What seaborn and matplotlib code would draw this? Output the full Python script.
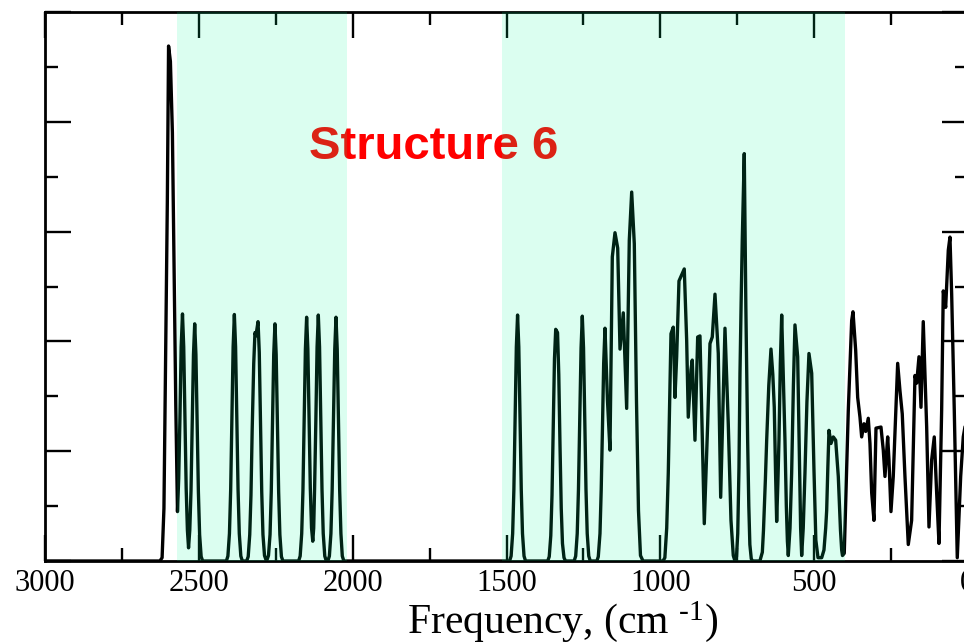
import numpy as np
import pandas as pd
import matplotlib
matplotlib.use("Agg")
import matplotlib.pyplot as plt
import seaborn as sns
from matplotlib.ticker import MultipleLocator

# Simulated vibrational spectrum, (frequency cm^-1, intensity a.u.) vertices,
# listed from high to low frequency.
stretch_region = [
    (3000, 0), (2627, 0), (2620, 0.03), (2614, 0.48), (2609, 1.73), (2603, 3.27),
    (2599, 4.69), (2593, 4.55), (2586.5, 3.90), (2581, 2.65), (2575.5, 1.42),
    (2570, 0.45), (2566, 0.75), (2562, 1.30), (2558, 1.95), (2553.7, 2.25),
    (2549.7, 1.95), (2545.7, 1.28), (2541.7, 0.66), (2537.7, 0.28), (2534, 0.12),
    (2530, 0.28), (2526, 0.64), (2522, 1.25), (2518, 1.88), (2514, 2.16),
    (2510, 1.88), (2506, 1.23), (2502, 0.63), (2498, 0.24), (2493, 0.04), (2488, 0),
    (2411, 0), (2406, 0.045), (2401, 0.25), (2397, 0.65), (2393, 1.28), (2389, 1.95),
    (2385, 2.245), (2381, 1.95), (2377, 1.28), (2373, 0.65), (2369, 0.25),
    (2364, 0.045), (2359, 0),
    (2345, 0), (2340, 0.04), (2335, 0.24), (2331, 0.60), (2327, 1.20), (2322, 1.80),
    (2318, 2.08), (2315, 2.05), (2308, 2.18), (2304, 1.90), (2300, 1.24),
    (2296, 0.63), (2292, 0.24), (2287, 0.05), (2282, 0.01),
    (2279, 0.01), (2274, 0.05), (2269, 0.24), (2265, 0.63), (2261, 1.23),
    (2257, 1.88), (2253, 2.16), (2249, 1.88), (2245, 1.23), (2241, 0.63),
    (2237, 0.24), (2232, 0.04), (2227, 0),
    (2176, 0), (2171, 0.045), (2166, 0.25), (2162, 0.64), (2158, 1.27), (2154, 1.93),
    (2150, 2.22), (2146, 1.93), (2142, 1.28), (2138, 0.66), (2134, 0.30),
    (2130, 0.18), (2127, 0.30), (2124, 0.67), (2120, 1.28), (2116, 1.95),
    (2112, 2.24), (2108, 1.95), (2104, 1.28), (2100, 0.65), (2096, 0.25),
    (2091, 0.045), (2086, 0),
    (2081, 0), (2076, 0.045), (2071, 0.25), (2067, 0.64), (2063, 1.27),
    (2058.5, 1.93), (2054.5, 2.22), (2050.5, 1.93), (2046.5, 1.27), (2042.5, 0.64),
    (2038.5, 0.25), (2034, 0.045), (2029, 0), (1900, 0),
]

fingerprint_region = [
    (1490, 0), (1485, 0.045), (1480, 0.25), (1476, 0.65), (1472, 1.28), (1468, 1.95),
    (1464, 2.24), (1460, 1.95), (1456, 1.28), (1452, 0.65), (1448, 0.25),
    (1443, 0.045), (1438, 0),
    (1366, 0), (1361, 0.04), (1356, 0.23), (1352, 0.60), (1348, 1.20), (1344, 1.84),
    (1340, 2.11), (1334, 2.08), (1330, 1.70), (1326, 1.05), (1322, 0.48),
    (1318, 0.16), (1313, 0.03), (1308, 0),
    (1280, 0), (1275, 0.045), (1270, 0.25), (1266, 0.65), (1262, 1.27),
    (1257.5, 1.94), (1253.5, 2.23), (1249.5, 1.94), (1245.5, 1.27), (1241.5, 0.65),
    (1237.5, 0.25), (1232.5, 0.045), (1227.5, 0),
    (1206, 0), (1201.5, 0.04), (1196, 0.25), (1192, 0.65), (1188, 1.20), (1184, 1.80),
    (1179.7, 2.12), (1171.6, 1.46), (1163.5, 1.01), (1155.9, 2.77), (1147.2, 2.99),
    (1138.4, 2.85), (1130.9, 1.93), (1120.2, 2.26), (1109.2, 1.39), (1100.7, 2.92),
    (1092.9, 3.36), (1084.4, 2.89), (1077.3, 1.46), (1070.8, 0.46), (1064.3, 0.05),
    (1056, 0),
    (991, 0), (985, 0.03), (979, 0.30), (973.9, 0.80), (969, 1.50), (965.1, 2.07),
    (957.6, 2.13), (952.1, 1.49), (946.6, 1.86), (939.1, 2.55), (921.9, 2.66),
    (914.1, 2.01), (908.9, 1.31), (900.1, 1.74), (895.9, 1.83), (887.1, 1.10),
    (878.3, 2.04), (870.8, 2.05), (856.8, 0.34), (845.8, 1.25), (838.3, 1.98),
    (830.8, 2.04), (822.0, 2.43), (811.3, 1.89), (803.5, 0.58), (789.5, 2.12),
    (778.8, 1.25), (770, 0.37), (762.5, 0.05), (757, 0),
    (752, 0.04), (748, 0.25), (744, 0.85), (740.7, 1.71), (737, 2.35), (733.3, 2.92),
    (726.8, 3.71), (721.6, 2.31), (718, 1.55), (715.8, 1.10), (712, 0.50),
    (708.6, 0.15), (704, 0.02), (700, 0),
    (676, 0), (668, 0.08), (664.3, 0.28), (658, 0.75), (653.9, 1.10), (647, 1.60),
    (639.9, 1.93), (634, 1.70), (629.2, 1.40), (625, 0.80), (621.4, 0.36),
    (617.6, 0.70), (613.9, 1.10), (609.5, 1.80), (605.1, 2.24), (600, 1.70),
    (594.4, 1.10), (590, 0.50), (586.5, 0.18), (583.6, 0.05), (578, 0.30),
    (572.7, 0.80), (567, 1.60), (561.9, 2.15), (553.1, 1.86), (550, 1.35),
    (547.2, 0.83), (543.5, 0.30), (540.1, 0.05), (535, 0.30), (529.4, 0.80),
    (523, 1.45), (516.4, 1.89), (507.5, 1.71), (504, 1.30), (500.1, 0.83),
    (494, 0.19), (487, 0.03), (475, 0.03), (467.6, 0.10), (462, 0.30),
    (458.8, 0.46), (455, 0.85), (451.3, 1.19), (444.8, 1.07), (437.3, 1.13),
    (429.5, 1.10), (421, 0.77), (417, 0.50), (413.9, 0.28), (410, 0.10),
    (407.4, 0.05), (401.6, 0.07),
]

low_region = [
    (388.5, 1.37), (377.5, 2.19), (373.2, 2.27), (364.5, 1.92), (358, 1.49),
    (350.5, 1.31), (345, 1.13), (337.5, 1.25), (331.9, 1.18), (323.5, 1.30),
    (318, 1.07), (312.4, 0.62), (305, 0.37), (298.4, 1.21), (282.2, 1.22),
    (274.7, 1.01), (269.2, 0.77), (260.4, 1.13), (256.2, 0.92), (249.7, 0.45),
    (242.2, 0.77), (227.9, 1.80), (220.4, 1.55), (213, 1.34), (204.2, 0.77),
    (193.4, 0.15), (182.5, 0.37), (171.6, 1.69), (166.1, 1.62), (158.6, 1.86),
    (152.1, 1.40), (144.7, 2.18), (133.6, 1.22), (126.1, 0.31), (117.4, 0.92),
    (108.9, 1.13), (101.1, 0.62), (93.6, 0.16), (84.9, 1.37), (79.6, 2.46),
    (71.8, 2.31), (63.3, 2.83), (57.8, 2.95), (52.3, 2.43), (43.8, 1.37),
    (34.1, 0.03), (23, 0.77), (14.6, 1.13), (0, 1.37),
]

# Highlighted frequency windows (cm^-1)
highlight_bands = [(2573, 2020), (1514, 400)]
title_text = "Structure 6"
x_major_ticks = [3000, 2500, 2000, 1500, 1000, 500, 0]

points = stretch_region + fingerprint_region + low_region
spectrum = pd.DataFrame(points, columns=["frequency", "intensity"])

sns.set_style("ticks")
plt.rcParams["font.family"] = ["Liberation Serif", "DejaVu Serif"]
plt.rcParams["text.color"] = "black"
plt.rcParams["axes.labelcolor"] = "black"
plt.rcParams["xtick.color"] = "black"
plt.rcParams["ytick.color"] = "black"
plt.rcParams["mathtext.fontset"] = "custom"
plt.rcParams["mathtext.rm"] = "Liberation Serif"
plt.rcParams["mathtext.it"] = "Liberation Serif:italic"

fig = plt.figure(figsize=(9.64, 6.44), dpi=100)
ax = fig.add_axes([0.04694, 0.12888, 0.95695, 0.85248])

sns.lineplot(data=spectrum, x="frequency", y="intensity", sort=False,
             estimator=None, color="black", linewidth=2.4, ax=ax, zorder=2)

ax.set_xlim(3000, 0)
ax.set_ylim(0, 5)
ax.set_xticks(x_major_ticks)
ax.xaxis.set_minor_locator(MultipleLocator(250))
ax.yaxis.set_major_locator(MultipleLocator(1))
ax.yaxis.set_minor_locator(MultipleLocator(0.5))

ax.tick_params(which="both", direction="in", top=True, right=True,
               labelleft=False, color="black", labelcolor="black")
ax.tick_params(which="major", length=19, width=1.7, labelsize=22, pad=6)
ax.tick_params(which="minor", length=9.5, width=1.7)
for sp in ax.spines.values():
    sp.set_linewidth(2.0)
    sp.set_color("black")

ax.set_ylabel("")
ax.set_xlabel(r"Frequency, (cm $^{\text{-1}}$)", fontsize=30, color="black")
ax.xaxis.set_label_coords(0.561, -0.1311)
ax.xaxis.label.set_va("baseline")

# Translucent highlight windows laid over the trace
for hi, lo in highlight_bands:
    ax.axvspan(hi, lo, color="#00FA9A", alpha=0.14, lw=0, zorder=5)

ax.text(0.4502, 0.7531, title_text, transform=fig.transFigure,
        ha="center", va="baseline", fontsize=34, fontweight="bold",
        color="red", family=["Liberation Sans", "DejaVu Sans"], zorder=4)

fig.savefig("out.png", dpi=100)
